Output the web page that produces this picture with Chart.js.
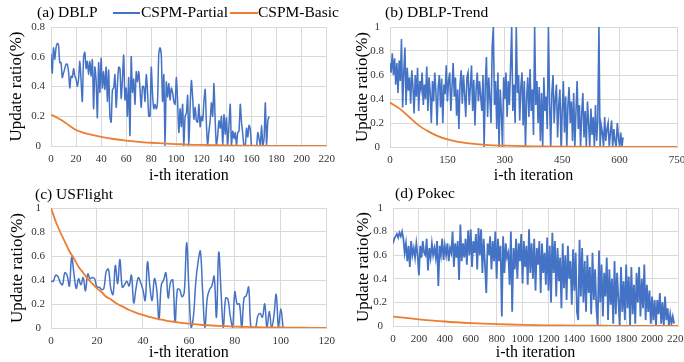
<!DOCTYPE html>
<html>
<head>
<meta charset="utf-8">
<script src="https://cdn.jsdelivr.net/npm/chart.js@4.4.1/dist/chart.umd.min.js"></script>
<style>
html,body{margin:0;padding:0;width:684px;height:362px;overflow:hidden;background:#fff;}
canvas{position:absolute;}
.t{position:absolute;font-family:'Liberation Serif','Times New Roman',serif;font-size:15.5px;line-height:18px;color:#000;white-space:nowrap;}
.sw{position:absolute;height:2px;}
</style>
</head>
<body>
<canvas id="ca" width="342" height="185" style="left:0;top:0"></canvas>
<canvas id="cb" width="358" height="185" style="left:342px;top:0"></canvas>
<canvas id="cc" width="342" height="177" style="left:0;top:185px"></canvas>
<canvas id="cd" width="358" height="177" style="left:342px;top:185px"></canvas>

<div class="t" style="left:37px;top:3px">(a) DBLP</div>
<div class="sw" style="left:113px;top:12px;width:27px;background:#4472C4"></div>
<div class="t" style="left:141px;top:3px">CSPM-Partial</div>
<div class="sw" style="left:230px;top:12px;width:28px;background:#ED7D31"></div>
<div class="t" style="left:258px;top:3px">CSPM-Basic</div>
<div class="t" style="left:385px;top:3px">(b) DBLP-Trend</div>
<div class="t" style="left:35px;top:185px">(c) USFlight</div>
<div class="t" style="left:395px;top:184px">(d) Pokec</div>

<script>
// ---------- Data ----------
const seriesNames = ['CSPM-Partial', 'CSPM-Basic'];
const axisTitleX = 'i-th iteration';
const axisTitleY = 'Update ratio(%)';

// (a) DBLP : CSPM-Partial, one value per iteration 0..174
const dblpPartial = [
 0.62,0.49,0.66,0.58,0.66,0.69,0.68,0.56,0.56,0.46,0.49,
 0.52,0.55,0.55,0.50,0.39,0.47,0.46,0.52,0.47,0.45,
 0.40,0.45,0.57,0.44,0.30,0.60,0.63,0.52,0.57,0.48,
 0.57,0.47,0.58,0.25,0.53,0.44,0.19,0.56,0.36,0.59,
 0.39,0.50,0.38,0.53,0.30,0.51,0.20,0.16,0.38,0.39,
 0.48,0.26,0.41,0.53,0.52,0.32,0.45,0.61,0.31,0.39,
 0.20,0.46,0.07,0.60,0.36,0.45,0.28,0.50,0.43,0.50,
 0.38,0.26,0.40,0.40,0.30,0.48,0.37,0.20,0.20,0.53,
 0.35,0.25,0.28,0.25,0.30,0.62,0.66,0.61,0.30,0.48,
 0.00,0.43,0.33,0.42,0.31,0.39,0.36,0.30,0.28,0.46,
 0.30,0.09,0.25,0.13,0.28,0.00,0.20,0.22,0.34,0.00,
 0.26,0.44,0.33,0.18,0.26,0.17,0.16,0.28,0.13,0.20,
 0.17,0.30,0.38,0.15,0.00,0.10,0.17,0.29,0.20,0.42,
 0.17,0.00,0.07,0.17,0.12,0.20,0.00,0.21,0.08,0.19,
 0.00,0.14,0.28,0.00,0.10,0.05,0.09,0.00,0.09,0.10,
 0.28,0.16,0.08,0.00,0.00,0.12,0.06,0.14,0.11,0.00,
 0.00,0.00,0.00,0.00,0.09,0.05,0.00,0.14,0.00,0.05,
 0.29,0.00,0.17,0.20
];
// (a) DBLP : CSPM-Basic (sampled iterations)
const dblpBasicIter = [0,5,10,15,20,25,30,40,50,60,70,80,90,100,110,120,140,160,180,200,220];
const dblpBasic = [0.21,0.19,0.165,0.135,0.108,0.092,0.08,0.062,0.047,0.036,0.028,0.022,0.017,0.013,0.009,0.007,0.004,0.002,0.001,0.0005,0];

// (b) DBLP-Trend : CSPM-Partial, every 3rd iteration 0..609
const trendStep = 3;
const trendPartial = [
 0.70,0.62,0.78,0.60,0.74,0.52,0.70,0.45,0.72,0.55,
 0.90,0.33,0.62,0.83,0.35,0.66,0.47,0.58,0.36,0.64,
 0.50,0.28,0.60,0.42,0.66,0.30,0.55,0.48,0.62,0.35,
 0.52,0.40,0.67,0.30,0.58,0.45,0.20,0.55,0.38,0.62,
 0.46,0.18,0.50,0.60,0.33,0.57,0.20,0.52,0.44,0.68,
 0.38,0.55,0.62,0.30,0.50,0.70,0.42,0.58,0.26,0.48,
 0.15,0.52,0.64,0.36,0.60,0.44,0.25,0.58,0.62,0.35,
 0.50,0.68,0.30,0.56,0.18,0.48,0.62,0.38,0.55,0.42,
 0.30,0.60,0.00,0.52,0.75,0.25,0.58,0.40,0.20,0.83,
 1.00,0.35,0.55,0.15,0.62,0.00,0.48,0.28,0.00,0.58,
 0.40,0.62,0.25,0.55,0.35,0.66,1.00,0.30,0.52,0.20,
 1.00,0.45,0.60,0.22,0.50,0.62,0.18,0.55,0.00,0.40,
 0.58,0.25,0.65,0.30,0.48,0.10,1.00,0.35,0.55,0.20,
 0.50,0.05,0.45,0.00,0.58,0.30,0.42,0.15,1.00,0.38,
 0.00,0.45,0.60,0.20,0.40,0.52,0.08,0.35,0.48,0.00,
 0.30,0.55,0.12,0.42,0.00,0.35,0.50,0.20,0.38,0.05,
 0.45,0.00,0.30,0.55,0.15,0.35,0.00,0.28,0.45,0.08,
 0.30,0.00,0.38,0.20,0.00,0.32,0.10,0.25,0.00,0.35,
 0.05,0.22,1.00,0.00,0.18,0.12,0.00,0.25,0.05,0.15,
 0.20,0.00,0.12,0.22,0.00,0.15,0.05,0.00,0.20,0.08,
 0.00,0.12,0.00,0.08
];
const trendBasicIter = [0,25,50,75,100,125,150,175,200,250,300,350,400,500,600,750];
const trendBasic = [0.37,0.32,0.25,0.18,0.13,0.09,0.063,0.045,0.033,0.018,0.011,0.007,0.004,0.002,0.001,0];

// (c) USFlight : CSPM-Partial, iterations 0..101
const flightPartial = [
 0.39,0.39,0.44,0.43,0.38,0.36,0.46,0.44,0.35,0.59,
 0.45,0.33,0.41,0.36,0.42,0.31,0.45,0.41,0.42,0.41,
 0.34,0.34,0.32,0.33,0.47,0.49,0.33,0.28,0.52,0.37,
 0.57,0.34,0.36,0.39,0.35,0.44,0.21,0.33,0.42,0.38,
 0.32,0.23,0.55,0.35,0.23,0.41,0.32,0.07,0.36,0.40,
 0.46,0.25,0.38,0.40,0.05,0.32,0.32,0.26,0.30,0.71,
 0.33,0.00,0.10,0.38,0.55,0.64,0.30,0.00,0.25,0.32,
 0.35,0.43,0.09,0.63,0.30,0.00,0.25,0.24,0.10,0.00,
 0.30,0.20,0.20,0.00,0.25,0.27,0.34,0.00,0.00,0.00,
 0.10,0.12,0.09,0.20,0.00,0.14,0.00,0.10,0.28,0.00,
 0.16,0.00
];
const flightBasicIter = [0,2,4,6,8,10,12,14,16,18,20,22,24,26,28,30,32,34,36,38,40,42,44,46,48,50,52,54,56,58,60,65,70,75,80,85,90,95,100,105,110,115,120];
const flightBasic = [1.0,0.89,0.80,0.72,0.64,0.58,0.51,0.46,0.41,0.37,0.33,0.30,0.26,0.24,0.21,0.19,0.17,0.15,0.135,0.12,0.11,0.097,0.087,0.078,0.069,0.062,0.056,0.05,0.045,0.04,0.036,0.027,0.021,0.016,0.012,0.009,0.007,0.005,0.004,0.003,0.002,0.001,0.001];

// (d) Pokec : CSPM-Partial, every 10th iteration 0..2170
const pokecStep = 10;
const pokecPartial = [
 0.70,0.74,0.76,0.78,0.75,0.79,0.76,0.80,0.74,0.62,
 0.70,0.55,0.68,0.50,0.72,0.60,0.66,0.58,0.70,0.60,
 0.43,0.68,0.58,0.72,0.62,0.60,0.74,0.47,0.66,0.58,
 0.70,0.60,0.66,0.58,0.72,0.34,0.68,0.60,0.74,0.56,
 0.68,0.60,0.70,0.55,0.66,0.62,0.80,0.50,0.70,0.58,
 0.72,0.39,0.86,0.55,0.70,0.58,0.74,0.52,0.81,0.60,
 0.82,0.50,0.72,0.62,0.78,0.48,0.83,0.60,0.82,0.45,
 0.74,0.52,0.28,0.70,0.60,0.76,0.48,0.72,0.55,0.80,
 0.40,0.74,0.55,0.68,0.08,0.76,0.45,0.70,0.58,0.62,
 0.35,0.80,0.12,0.66,0.48,0.74,0.40,0.70,0.55,0.78,
 0.36,0.72,0.50,0.68,0.35,0.82,0.45,0.70,0.40,0.74,
 0.30,0.66,0.52,0.72,0.28,0.70,0.45,0.62,0.35,0.75,
 0.30,0.68,0.20,0.79,0.45,0.72,0.25,0.66,0.38,0.58,
 0.15,0.70,0.32,0.60,0.22,0.68,0.40,0.55,0.18,0.65,
 0.30,0.62,0.12,0.05,0.73,0.25,0.66,0.20,0.55,0.12,
 0.60,0.28,0.50,0.10,0.62,0.22,0.48,0.15,0.00,0.64,
 0.20,0.52,0.08,0.45,0.25,0.58,0.05,0.48,0.18,0.40,
 0.02,0.55,0.10,0.45,0.22,0.00,0.50,0.12,0.38,0.05,
 0.52,0.15,0.42,0.00,0.50,0.10,0.35,0.02,0.45,0.20,
 0.50,0.08,0.40,0.15,0.52,0.05,0.35,0.12,0.30,0.02,
 0.25,0.05,0.22,0.00,0.22,0.10,0.28,0.02,0.20,0.00,
 0.25,0.05,0.15,0.00,0.10,0.02,0.08,0.02
];
const pokecBasicIter = [0,200,400,600,800,1000,1200,1400,1600,1800,2000,2200];
const pokecBasic = [0.08,0.057,0.038,0.025,0.016,0.01,0.006,0.004,0.002,0.001,0.0005,0];

// ---------- Helpers ----------
const FONT = "'Liberation Serif','Times New Roman',serif";
const BLUE = '#4472C4', ORANGE = '#ED7D31', GRID = '#d9d9d9';
function pairs(xs, ys){ return ys.map((y,i)=>({x:xs[i], y:y})); }
function stepped(ys, step){ return ys.map((y,i)=>({x:i*step, y:y})); }

function makeChart(id, cfg){
  new Chart(document.getElementById(id), {
    type: 'line',
    data: {
      datasets: [
        {label: seriesNames[0], data: cfg.partial, borderColor: BLUE, borderWidth: cfg.blueW,
         pointRadius: 0, tension: cfg.tension, order: 1, fill: false},
        {label: seriesNames[1], data: cfg.basic, borderColor: ORANGE, borderWidth: 1.8,
         pointRadius: 0, tension: 0.3, order: 0, fill: false}
      ]
    },
    options: {
      responsive: false, animation: false, devicePixelRatio: 1,
      layout: {padding: {left: 0, top: cfg.padTop, right: cfg.padRight, bottom: 0}},
      plugins: {legend: {display: false}, tooltip: {enabled: false}},
      scales: {
        x: {
          type: 'linear', min: 0, max: cfg.xMax,
          ticks: {stepSize: cfg.xStep, autoSkip: false, maxRotation: 0, padding: 7,
                  color: '#333', font: {family: FONT, size: 11},
                  callback: v => String(v)},
          grid: {color: GRID, drawTicks: false},
          border: {color: GRID},
          title: {display: true, text: axisTitleX, color: '#000',
                  font: {family: FONT, size: 16}, padding: {top: 0, bottom: 0}},
          afterFit: s => { s.height = cfg.xH; }
        },
        y: {
          min: 0, max: cfg.yMax,
          ticks: {stepSize: cfg.yStep, padding: 6, crossAlign: 'center',
                  color: '#333', font: {family: FONT, size: 11},
                  callback: v => String(Math.round(v * 100) / 100)},
          grid: {color: GRID, drawTicks: false},
          border: {color: GRID},
          title: {display: true, text: axisTitleY, color: '#000',
                  font: {family: FONT, size: 17}, padding: {top: cfg.yTitlePad, bottom: 0}},
          afterFit: s => { s.width = cfg.yW; }
        }
      }
    }
  });
}

makeChart('ca', {partial: stepped(dblpPartial, 1), basic: pairs(dblpBasicIter, dblpBasic),
  tension: 0.25, blueW: 1.5, xMax: 220, xStep: 20, yMax: 0.8, yStep: 0.1,
  padTop: 27, padRight: 11, xH: 39, yW: 51, yTitlePad: 6});
makeChart('cb', {partial: stepped(trendPartial, trendStep), basic: pairs(trendBasicIter, trendBasic),
  tension: 0, blueW: 1.6, xMax: 750, xStep: 150, yMax: 1, yStep: 0.2,
  padTop: 27, padRight: 23, xH: 38, yW: 48, yTitlePad: 10});
makeChart('cc', {partial: stepped(flightPartial, 1), basic: pairs(flightBasicIter, flightBasic),
  tension: 0.4, blueW: 1.5, xMax: 120, xStep: 20, yMax: 1, yStep: 0.2,
  padTop: 23, padRight: 10, xH: 34, yW: 51, yTitlePad: 7});
makeChart('cd', {partial: stepped(pokecPartial, pokecStep), basic: pairs(pokecBasicIter, pokecBasic),
  tension: 0, blueW: 1.8, xMax: 2200, xStep: 200, yMax: 1, yStep: 0.2,
  padTop: 23, padRight: 22, xH: 36, yW: 51, yTitlePad: 11});
</script>
</body>
</html>
